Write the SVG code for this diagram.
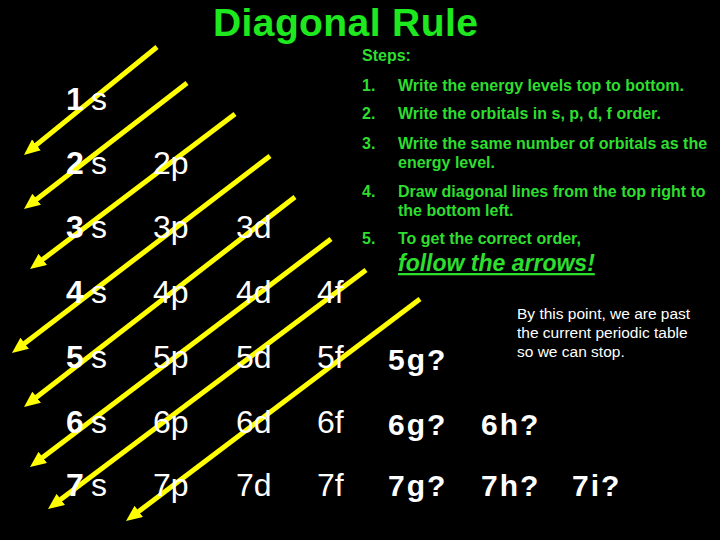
<svg xmlns="http://www.w3.org/2000/svg" width="720" height="540" viewBox="0 0 720 540">
<defs>
<style>
.title{font-family:"Liberation Sans",Arial,sans-serif;font-weight:bold;font-size:39px;fill:#1ee81e;letter-spacing:0.4px}
.step{font-family:"Liberation Sans",Arial,sans-serif;font-weight:bold;font-size:16px;fill:#2ede2e}
.follow{font-family:"Liberation Sans",Arial,sans-serif;font-weight:bold;font-style:italic;font-size:23px;fill:#2ede2e;text-decoration:underline}
.orb{font-family:"Liberation Sans",Arial,sans-serif;font-size:32px;fill:#ffffff}
.num{font-weight:bold}
.gq{font-family:"Liberation Sans",Arial,sans-serif;font-weight:bold;font-size:30px;fill:#ffffff;letter-spacing:2px}
.note{font-family:"Liberation Sans",Arial,sans-serif;font-size:15.5px;fill:#ffffff}
.arrow{stroke:#ffff00;stroke-width:5;fill:none;marker-end:url(#head)}
</style>
<marker id="head" markerUnits="userSpaceOnUse" markerWidth="16" markerHeight="14" viewBox="0 0 16 14" refX="4" refY="7" orient="auto">
<path d="M0,0 L16,7 L0,14 z" fill="#ffff00"/>
</marker>
</defs>
<rect x="0" y="0" width="720" height="540" fill="#000000"/>
<text class="title" x="213" y="36">Diagonal Rule</text>

<g id="connectors">
<line class="arrow" x1="157" y1="47" x2="33.3" y2="147.4"/>
<line class="arrow" x1="187" y1="83" x2="33.5" y2="201.7"/>
<line class="arrow" x1="235" y1="114" x2="39.6" y2="261.8"/>
<line class="arrow" x1="270" y1="156" x2="21.5" y2="345.7"/>
<line class="arrow" x1="295" y1="197" x2="33.5" y2="399.6"/>
<line class="arrow" x1="331" y1="239" x2="39.6" y2="459.8"/>
<line class="arrow" x1="366" y1="270" x2="57.6" y2="501.8"/>
<line class="arrow" x1="420" y1="299" x2="135.6" y2="513.8"/>
</g>

<g id="n1s"><text class="orb" y="110"><tspan class="num" x="66">1</tspan><tspan x="91">s</tspan></text></g>
<g id="n2s"><text class="orb" y="174"><tspan class="num" x="66">2</tspan><tspan x="91">s</tspan></text></g>
<g id="n3s"><text class="orb" y="238"><tspan class="num" x="66">3</tspan><tspan x="91">s</tspan></text></g>
<g id="n4s"><text class="orb" y="303"><tspan class="num" x="66">4</tspan><tspan x="91">s</tspan></text></g>
<g id="n5s"><text class="orb" y="368"><tspan class="num" x="66">5</tspan><tspan x="91">s</tspan></text></g>
<g id="n6s"><text class="orb" y="433"><tspan class="num" x="66">6</tspan><tspan x="91">s</tspan></text></g>
<g id="n7s"><text class="orb" y="496"><tspan class="num" x="66">7</tspan><tspan x="91">s</tspan></text></g>

<g id="n2p"><text class="orb" x="153" y="174">2p</text></g>
<g id="n3p"><text class="orb" x="153" y="238">3p</text></g>
<g id="n4p"><text class="orb" x="153" y="303">4p</text></g>
<g id="n5p"><text class="orb" x="153" y="368">5p</text></g>
<g id="n6p"><text class="orb" x="153" y="433">6p</text></g>
<g id="n7p"><text class="orb" x="153" y="496">7p</text></g>

<g id="n3d"><text class="orb" x="236" y="238">3d</text></g>
<g id="n4d"><text class="orb" x="236" y="303">4d</text></g>
<g id="n5d"><text class="orb" x="236" y="368">5d</text></g>
<g id="n6d"><text class="orb" x="236" y="433">6d</text></g>
<g id="n7d"><text class="orb" x="236" y="496">7d</text></g>

<g id="n4f"><text class="orb" x="317" y="303">4f</text></g>
<g id="n5f"><text class="orb" x="317" y="368">5f</text></g>
<g id="n6f"><text class="orb" x="317" y="433">6f</text></g>
<g id="n7f"><text class="orb" x="317" y="496">7f</text></g>

<g id="n5g"><text class="gq" x="388" y="370">5g?</text></g>
<g id="n6g"><text class="gq" x="388" y="435">6g?</text></g>
<g id="n7g"><text class="gq" x="388" y="496">7g?</text></g>
<g id="n6h"><text class="gq" x="481" y="435">6h?</text></g>
<g id="n7h"><text class="gq" x="481" y="496">7h?</text></g>
<g id="n7i"><text class="gq" x="572" y="496">7i?</text></g>

<g id="steps">
<text class="step" x="362" y="61">Steps:</text>
<text class="step" x="362" y="91">1.</text>
<text class="step" x="398" y="91">Write the energy levels top to bottom.</text>
<text class="step" x="362" y="119">2.</text>
<text class="step" x="398" y="119">Write the orbitals in s, p, d, f order.</text>
<text class="step" x="362" y="149">3.</text>
<text class="step" x="398" y="149">Write the same number of orbitals as the</text>
<text class="step" x="398" y="168">energy level.</text>
<text class="step" x="362" y="197">4.</text>
<text class="step" x="398" y="197">Draw diagonal lines from the top right to</text>
<text class="step" x="398" y="216">the bottom left.</text>
<text class="step" x="362" y="244">5.</text>
<text class="step" x="398" y="244">To get the correct order,</text>
<text class="follow" x="398" y="271">follow the arrows!</text>
</g>

<g id="note">
<text class="note" x="517" y="319">By this point, we are past</text>
<text class="note" x="517" y="338">the current periodic table</text>
<text class="note" x="517" y="357">so we can stop.</text>
</g>
</svg>
